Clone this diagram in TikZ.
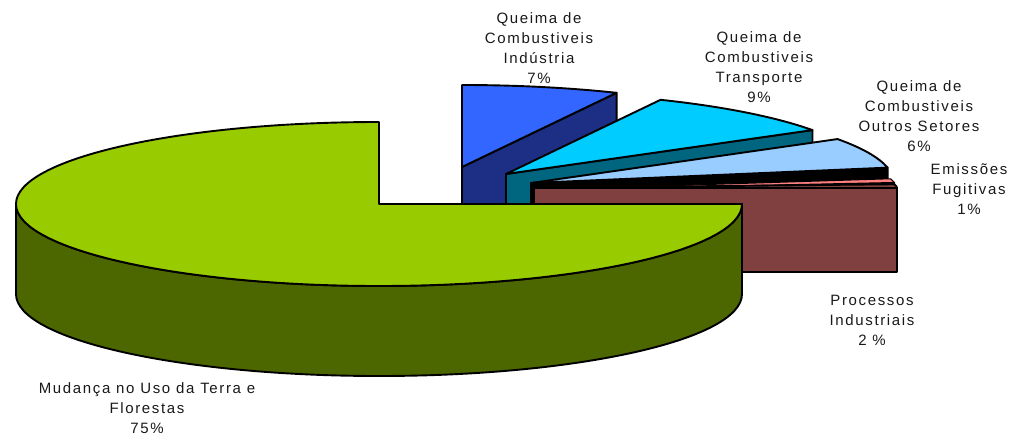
\documentclass[tikz,border=0pt]{standalone}
\usepackage{fontspec}
\setmainfont[LetterSpace=11]{Liberation Sans}
\definecolor{indtop}{HTML}{3366FF}
\definecolor{indside}{HTML}{1C2F85}
\definecolor{tratop}{HTML}{00CCFF}
\definecolor{traside}{HTML}{006680}
\definecolor{outtop}{HTML}{99CCFF}
\definecolor{outside}{HTML}{000000}
\definecolor{emitop}{HTML}{FF8080}
\definecolor{emiside}{HTML}{401515}
\definecolor{protop}{HTML}{804040}
\definecolor{grntop}{HTML}{99CC00}
\definecolor{grnside}{HTML}{4C6600}
\begin{document}
\begin{tikzpicture}[x=1pt,y=-1pt,
  face/.style={draw=black,line width=1.9pt,line join=round},
  lab/.style={align=center,font=\fontsize{15}{20}\selectfont,inner sep=0pt,text=black!90}]
\useasboundingbox (0,0) rectangle (1014,436);

% Industria 7%
\filldraw[face,fill=indside] (462,167) -- ++(-64.8:363 and 82) -- ++(0,86) -- (462,253) -- cycle;
\filldraw[face,fill=indtop] (462,167) -- ++(-90:363 and 82) arc[start angle=-90,end angle=-64.8,x radius=363,y radius=82] -- cycle;

% Transporte 9%
\filldraw[face,fill=traside] (506,174) -- ++(-32.4:363 and 82) -- ++(0,86) -- (506,260) -- cycle;
\filldraw[face,fill=tratop] (506,174) -- ++(-64.8:363 and 82) arc[start angle=-64.8,end angle=-32.4,x radius=363,y radius=82] -- cycle;

% Outros Setores 6%
\filldraw[face,fill=outside] (531,183) -- ++(-10.8:363 and 82) -- ++(0,86) -- (531,269) -- cycle;
\filldraw[face,fill=outtop] (531,183) -- ++(-32.4:363 and 82) arc[start angle=-32.4,end angle=-10.8,x radius=363,y radius=82] -- cycle;

% Emissoes Fugitivas 1%
\filldraw[face,fill=emiside] (534,190) -- ++(-7.2:363 and 60) -- ++(0,84) -- (534,274) -- cycle;
\filldraw[face,fill=emitop,line width=1pt] (534,190) -- ++(-10.8:363 and 60) arc[start angle=-10.8,end angle=-7.2,x radius=363,y radius=60] -- cycle;

% Processos Industriais 2%
\filldraw[face,fill=protop] (534,188) -- ++(-7.2:363 and 30) arc[start angle=-7.2,end angle=0,x radius=363,y radius=30] -- cycle;
\filldraw[face,fill=protop] (534,188) -- (897,188) -- (897,272) -- (534,272) -- cycle;

% Mudanca no Uso da Terra e Florestas 75%
\filldraw[face,fill=grnside] (742,204) arc[start angle=0,end angle=180,x radius=363,y radius=82] -- ++(0,90) arc[start angle=180,end angle=0,x radius=363,y radius=82] -- cycle;
\filldraw[face,fill=grntop] (379,204) -- (379,122) arc[start angle=270,end angle=0,x radius=363,y radius=82] -- cycle;

% labels
\node[lab] (lind) at (539,48) {Queima de\\Combustiveis\\Indústria\\7\%};
\node[lab] (ltra) at (759,67) {Queima de\\Combustiveis\\Transporte\\9\%};
\node[lab] (lout) at (919,116) {Queima de\\Combustiveis\\Outros Setores\\6\%};
\node[lab] (lemi) at (969,189) {Emissões\\Fugitivas\\1\%};
\node[lab] (lpro) at (872,320) {Processos\\Industriais\\2 \%};
\node[lab] (lmud) at (147,408) {Mudança no Uso da Terra e\\Florestas\\75\%};
\end{tikzpicture}
\end{document}
